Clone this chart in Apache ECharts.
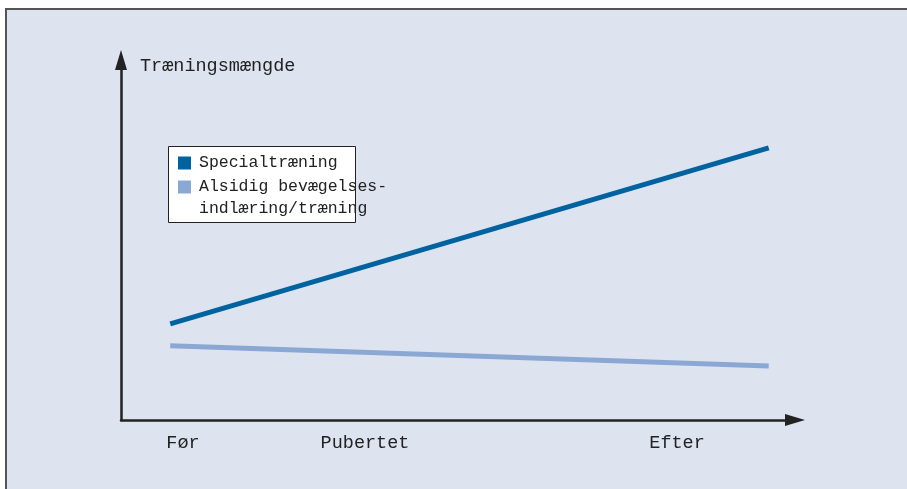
<!DOCTYPE html>
<html>
<head>
<meta charset="utf-8">
<script src="https://cdn.jsdelivr.net/npm/echarts@6/dist/echarts.min.js"></script>
<style>
  html, body { margin: 0; padding: 0; background: #fff; }
  #box { width: 907px; height: 489px; }
</style>
</head>
<body>
<div id="box"></div>
<script>
// data (0..100 on both axes)
var lineX = [7.3, 96.1];
var specialValues = [26.7, 75.6];
var generalValues = [20.6, 15.0];
var seriesNames = ['Specialtræning', 'Alsidig bevægelsesindlæring/træning'];
var legendLabels = ['Specialtræning', '\nAlsidig bevægelses-\nindlæring/træning'];
var stageLabels = ['Før', 'Pubertet', 'Efter'];
var stagePos = [9.2, 36.2, 82.5];
var yName = 'Træningsmængde';

var font = 'Liberation Mono';

function pairs(xs, ys) {
  return xs.map(function (x, i) { return [x, ys[i]]; });
}

var myChart = echarts.init(document.getElementById('box'));
var option = {
  backgroundColor: '#ffffff',
  animation: false,
  graphic: [
    {
      type: 'rect', z: 0, silent: true,
      shape: { x: 6, y: 9, width: 920, height: 500 },
      style: { fill: '#dde4f0', stroke: '#555', lineWidth: 2 }
    },
    {
      type: 'rect', z: 1, silent: true,
      shape: { x: 168.5, y: 146.5, width: 187, height: 76 },
      style: { fill: '#ffffff', stroke: '#222', lineWidth: 1 }
    }
  ],
  grid: { left: 121, right: 112, top: 60, bottom: 69 },
  legend: [
    {
      z: 10, left: 178, top: 152, orient: 'vertical', padding: 0,
      icon: 'rect', itemWidth: 13, itemHeight: 13,
      data: [seriesNames[0]],
      formatter: function () { return legendLabels[0]; },
      textStyle: { fontFamily: font, fontSize: 16.5, color: '#222', lineHeight: 22, padding: [0, 0, 0, 3] }
    },
    {
      z: 10, left: 178, top: 154, orient: 'vertical', padding: 0,
      icon: 'rect', itemWidth: 13, itemHeight: 13,
      data: [seriesNames[1]],
      formatter: function () { return legendLabels[1]; },
      textStyle: { fontFamily: font, fontSize: 16.5, color: '#222', lineHeight: 22, padding: [0, 0, 0, 3] }
    }
  ],
  xAxis: {
    type: 'value', min: 0, max: 100,
    axisLine: { show: true, symbol: ['none', 'triangle'], symbolSize: [12, 20], lineStyle: { color: '#222', width: 2.5 } },
    axisTick: { show: false },
    splitLine: { show: false },
    axisLabel: {
      customValues: stagePos,
      margin: 14,
      fontFamily: font, fontSize: 18.5, color: '#222',
      formatter: function (v) { return stageLabels[stagePos.indexOf(v)]; }
    }
  },
  yAxis: {
    type: 'value', min: 0, max: 100,
    name: yName,
    nameLocation: 'end',
    nameGap: -6,
    nameTextStyle: { fontFamily: font, fontSize: 18.5, color: '#222', align: 'left', verticalAlign: 'middle', padding: [0, 0, 0, 19] },
    axisLine: { show: true, symbol: ['none', 'triangle'], symbolSize: [12, 20], lineStyle: { color: '#222', width: 2.5 } },
    axisTick: { show: false },
    splitLine: { show: false },
    axisLabel: { show: false }
  },
  series: [
    {
      name: seriesNames[0], type: 'line', showSymbol: false,
      color: '#0063a0',
      lineStyle: { width: 5, color: '#0063a0' },
      data: pairs(lineX, specialValues)
    },
    {
      name: seriesNames[1], type: 'line', showSymbol: false,
      color: '#8ba8d4',
      lineStyle: { width: 5, color: '#8ba8d4' },
      data: pairs(lineX, generalValues)
    }
  ]
};
myChart.setOption(option);
</script>
</body>
</html>
